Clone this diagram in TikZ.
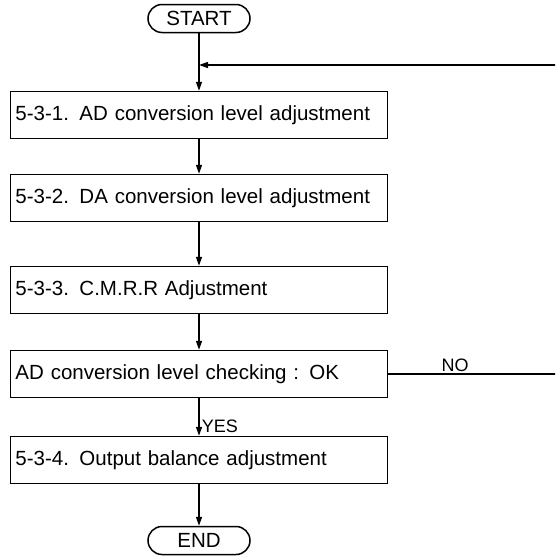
\documentclass[tikz,border=0pt]{standalone}
\usepackage{fontspec}
\setmainfont{Liberation Sans}
\usetikzlibrary{arrows.meta}
\newcommand{\stepno}[1]{\makebox[64pt][l]{#1}}

\begin{document}
\begin{tikzpicture}[
  x=1pt, y=-1pt, line width=1.5pt,
  font=\fontsize{20.5}{24}\selectfont,
  box/.style={draw, minimum width=377pt, minimum height=47pt, text width=367pt, inner xsep=5pt, align=left},
  term/.style={draw, rounded corners=14pt, minimum width=102pt, minimum height=28pt, inner sep=0pt},
  flow/.style={-{Triangle[length=9pt,width=6pt]}},
  lbl/.style={font=\fontsize{18}{20}\selectfont, inner sep=2pt},
]
\useasboundingbox (0,0) rectangle (555,557);
\clip (0,0) rectangle (555,557);

% ---------------- steps
\node[term] (start) at (199,18.5) {START};
\node[box]  (ad)    at (199,115)  {\stepno{5-3-1.}AD conversion level adjustment};
\node[box]  (da)    at (199,198)  {\stepno{5-3-2.}DA conversion level adjustment};
\node[box]  (cmrr)  at (199,290)  {\stepno{5-3-3.}C.M.R.R Adjustment};
\node[box]  (check) at (199,374)  {AD conversion level checking : OK};
\node[box]  (bal)   at (199,460)  {\stepno{5-3-4.}Output balance adjustment};
\node[term] (end)   at (199,540.5){END};

\coordinate (join) at (199,65);
\coordinate (back) at (585,65);

% ---------------- flows
\draw[flow] (start) -- (ad);
\draw[flow] (ad) -- (da);
\draw[flow] (da) -- (cmrr);
\draw[flow] (cmrr) -- (check);
\draw[flow] (check) -- node[lbl,right,pos=.75]{YES} (bal);
\draw[flow] (bal) -- (end);
\draw[flow] (check.east) -- node[lbl,above,pos=.34]{NO} (check.east -| back) -- (back) -- (join);

\end{tikzpicture}
\end{document}
